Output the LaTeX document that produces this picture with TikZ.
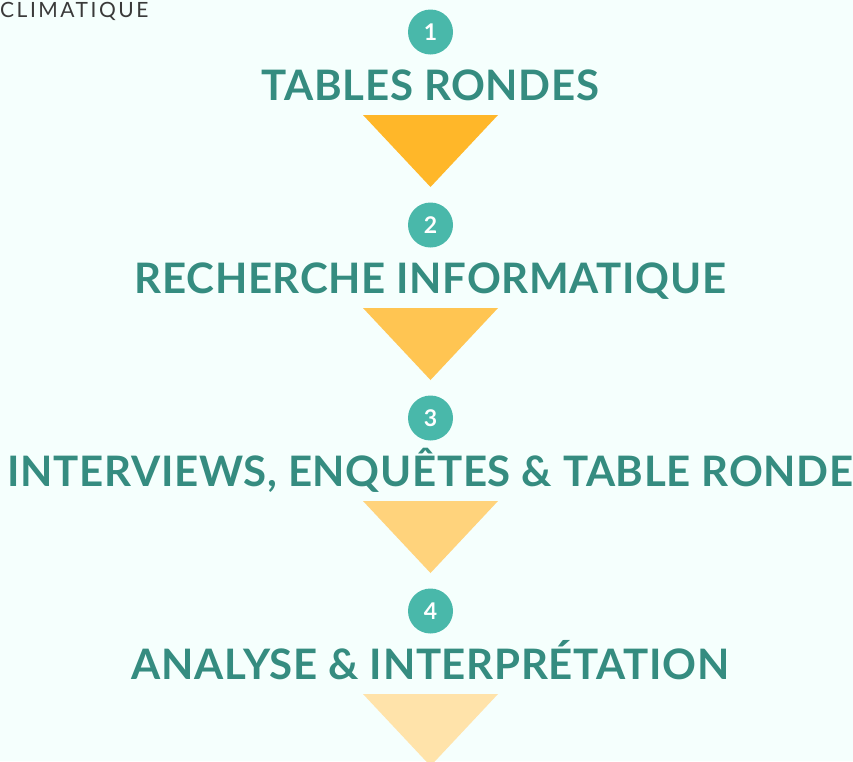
\documentclass[tikz,border=0pt]{standalone}
\usepackage{fontspec}
\setmainfont{Lato}
\usetikzlibrary{positioning}

\definecolor{bgmint}{HTML}{F5FFFD}
\definecolor{dotteal}{HTML}{49B8AA}
\definecolor{titleteal}{HTML}{358C80}
\definecolor{capgrey}{HTML}{3A3A3A}
\definecolor{triA}{HTML}{FFB729}
\definecolor{triB}{HTML}{FFC552}
\definecolor{triC}{HTML}{FFD37C}
\definecolor{triD}{HTML}{FFE3AA}

\tikzset{
	numdot/.style={circle, fill=dotteal, minimum size=45pt, inner sep=0pt,
		text=white, font=\bfseries\fontsize{23}{23}\selectfont},
	steptitle/.style={anchor=base, text=titleteal, inner sep=0pt,
		font=\bfseries\fontsize{42}{42}\selectfont\addfontfeature{LetterSpace=1.6}},
}

\begin{document}
\begin{tikzpicture}[x=1pt, y=-1pt]

	% page and background
	\fill[bgmint] (0,0) rectangle (853,761);
	\useasboundingbox (0,0) rectangle (853,761);
	\clip (0,0) rectangle (853,761);

	% cut heading
	\node[anchor=base west, inner sep=0pt, text=capgrey,
		font=\fontsize{21}{21}\selectfont\addfontfeature{LetterSpace=12}]
		(head) at (0,17.5) {CLIMATIQUE};

	% steps
	\foreach \n/\t/\c in {1/TABLES RONDES/triA,
		2/RECHERCHE INFORMATIQUE/triB,
		3/{INTERVIEWS, ENQUÊTES \& TABLE RONDE}/triC,
		4/ANALYSE \& INTERPRÉTATION/triD}
	{
		\pgfmathsetmacro{\dy}{193*(\n-1)}
		\node[numdot] (dot\n) at (430.5,32+\dy) {\n};
		\node[steptitle] (title\n) at (430.5,100+\dy) {\t};
		\fill[\c] (363,115+\dy) -- (498,115+\dy) -- (430.5,187+\dy) -- cycle;
	}

\end{tikzpicture}
\end{document}
